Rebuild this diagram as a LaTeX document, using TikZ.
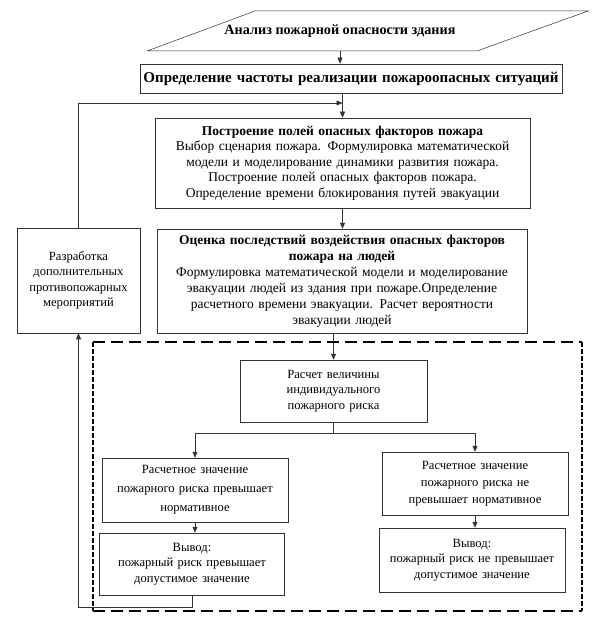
\documentclass[tikz,border=0pt]{standalone}
\usepackage{fontspec}
\setmainfont{Liberation Serif}
\usetikzlibrary{arrows.meta}

\begin{document}
\begin{tikzpicture}[x=1pt,y=-1pt,>={Triangle[length=6pt,width=5pt]},
    blok/.style={draw=black!80,line width=0.5pt,align=center,inner xsep=0pt,inner ysep=2pt,
        font=\fontsize{13.5}{15.5}\selectfont},
    melkij/.style={blok,font=\fontsize{12.6}{15.5}\selectfont},
    strelka/.style={->,draw=black!80,line width=0.5pt},
    shtrih/.style={line width=1.3pt,dash pattern=on 12pt off 6pt}]
    \useasboundingbox (0,0) rectangle (598,620);
    % parallelogram
    \draw[black!80,line width=0.5pt] (255,11)--(588,11)--(477,51)--(147,51)--cycle;
    \node[font=\fontsize{14.2}{16}\selectfont\bfseries] (analiz) at (340,31) {Анализ пожарной опасности здания};
    \coordinate (niz) at (340,51);
    % main column
    \node[blok,text width=422pt,minimum height=29pt,font=\fontsize{15}{17}\selectfont] (opr) at (351,78.5)
        {\textbf{Определение частоты реализации пожароопасных ситуаций}};
    \node[blok,text width=375pt,minimum height=90pt] (postr) at (342.5,163)
        {\textbf{Построение полей опасных факторов пожара}\\
         Выбор сценария пожара. Формулировка математической\\
         модели и моделирование динамики развития пожара.\\
         Построение полей опасных факторов пожара.\\
         Определение времени блокирования путей эвакуации};
    \node[blok,text width=370pt,minimum height=104pt,font=\fontsize{13.5}{16}\selectfont] (ocenka) at (342,281)
        {\textbf{Оценка последствий воздействия опасных факторов}\\
         \textbf{пожара на людей}\\
         Формулировка математической модели и моделирование\\
         эвакуации людей из здания при пожаре.Определение\\
         расчетного времени эвакуации. Расчет вероятности\\
         эвакуации людей};
    \node[melkij,text width=123pt,minimum height=105pt] (razrab) at (78.5,280.5)
        {Разработка\\ дополнительных\\ противопожарных\\ мероприятий};
    % risk part
    \node[melkij,text width=187pt,minimum height=62pt] (raschet) at (333.5,391)
        {Расчет величины\\ индивидуального\\ пожарного риска};
    \node[melkij,text width=186pt,minimum height=64pt,font=\fontsize{12.6}{19}\selectfont] (prev) at (195,490)
        {Расчетное значение\\ пожарного риска превышает\\ нормативное};
    \node[melkij,text width=186pt,minimum height=63pt,font=\fontsize{12.6}{17}\selectfont] (neprev) at (475,483.5)
        {Расчетное значение\\ пожарного риска не\\ превышает нормативное};
    \node[melkij,text width=185pt,minimum height=62pt] (vyvod1) at (192,564)
        {Вывод:\\ пожарный риск превышает\\ допустимое значение};
    \node[melkij,text width=186pt,minimum height=64pt] (vyvod2) at (472,560)
        {Вывод:\\ пожарный риск не превышает\\ допустимое значение};
    % connectors
    \coordinate (uzel) at (342.5,103);
    \draw[strelka] (niz) -- (niz |- opr.north);
    \draw[strelka] (postr.north |- opr.south) -- (postr.north);
    \draw[strelka] (razrab.north) |- (uzel);
    \draw[strelka] (postr.south) -- (postr.south |- ocenka.north);
    \draw[strelka] (raschet.north |- ocenka.south) -- (raschet.north);
    \draw[black!80,line width=0.5pt] (raschet.south) -- ++(0,11) coordinate (razv);
    \draw[strelka] (razv) -| (prev.north);
    \draw[strelka] (razv) -| (neprev.north);
    \draw[strelka] (prev.south) -- (prev.south |- vyvod1.north);
    \draw[strelka] (neprev.south) -- (neprev.south |- vyvod2.north);
    \draw[strelka] (vyvod1.south) -- ++(0,12) -| (razrab.south);
    % dashed frame
    \draw[shtrih] (93,342) -- (582,342);
    \draw[shtrih] (93,611) -- (582,611);
    \draw[line width=1.3pt,dash pattern=on 5pt off 2pt] (93,342) -- (93,611);
    \draw[line width=1.3pt,dash pattern=on 5pt off 2pt] (582,342) -- (582,611);
\end{tikzpicture}
\end{document}
